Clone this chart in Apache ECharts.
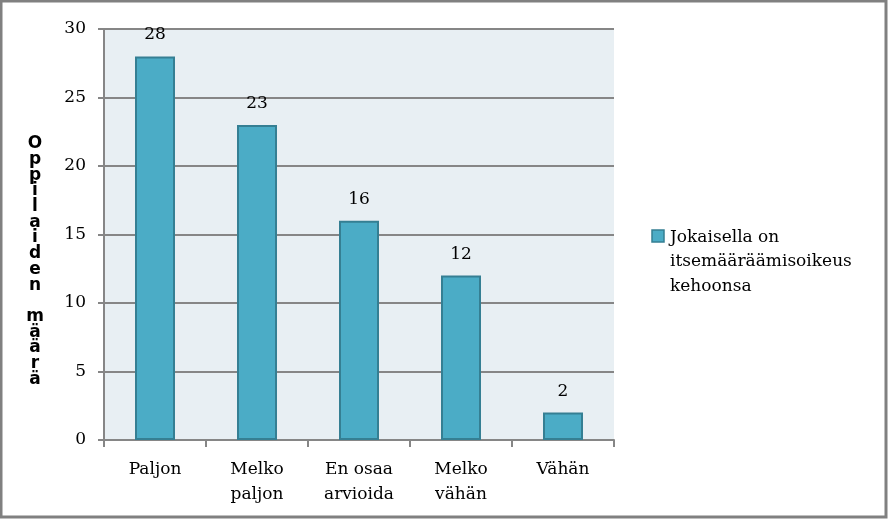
<!DOCTYPE html>
<html><head><meta charset="utf-8">
<script src="https://cdn.jsdelivr.net/npm/echarts@6/dist/echarts.min.js"></script>
<style>html,body{margin:0;padding:0;background:#fff}#c{width:888px;height:519px}</style>
</head><body><div id="c"></div>
<script>
const categories = ['Paljon', 'Melko\npaljon', 'En osaa\narvioida', 'Melko\nvähän', 'Vähän'];
const values = [28, 23, 16, 12, 2];
const seriesName = 'Jokaisella on\nitsemääräämisoikeus\nkehoonsa';
const yTitle = 'Oppilaiden määrä';

const chart = echarts.init(document.getElementById('c'));
const serif = '"DejaVu Serif", serif';
chart.setOption({
  animation: false,
  grid: {left: 104, right: 274, top: 29, bottom: 79},
  legend: {show: false, data: [seriesName]},
  xAxis: {
    type: 'category', data: categories,
    axisLine: {lineStyle: {color: '#868686', width: 2}},
    axisTick: {show: true, length: 7, lineStyle: {color: '#868686', width: 2}},
    axisLabel: {fontFamily: serif, fontSize: 17, color: '#000', margin: 17, lineHeight: 25, verticalAlign: 'top'}
  },
  yAxis: {
    type: 'value', min: 0, max: 30, interval: 5,
    axisLine: {show: true, lineStyle: {color: '#868686', width: 2}},
    axisTick: {show: true, length: 6, lineStyle: {color: '#868686', width: 2}},
    axisLabel: {fontFamily: serif, fontSize: 17, color: '#000', margin: 18},
    splitLine: {lineStyle: {color: '#868686', width: 2}},
    splitArea: {show: true, areaStyle: {color: ['#E8EFF3']}}
  },
  graphic: [
    {type: 'text', x: 35, y: 136, style: {text: yTitle.split('').join('\n'), font: 'bold 17px "DejaVu Sans"', lineHeight: 15.7, fill: '#000', align: 'center', verticalAlign: 'top'}},
    {type: 'rect', shape: {x: 652, y: 230, width: 12, height: 12}, style: {fill: '#4BACC6', stroke: '#357F93', lineWidth: 1.5}},
    {type: 'text', x: 670, y: 225, style: {text: seriesName, font: '17px "DejaVu Serif"', lineHeight: 24.5, fill: '#000', verticalAlign: 'top'}},
    {type: 'rect', shape: {x: 1, y: 1, width: 885, height: 516}, style: {fill: 'none', stroke: '#808080', lineWidth: 3}, silent: true}
  ],
  series: [{
    name: seriesName, type: 'bar', data: values, barWidth: 40,
    itemStyle: {color: '#4BACC6', borderColor: '#357F93', borderWidth: 2},
    label: {show: true, position: 'top', distance: 13, fontFamily: serif, fontSize: 17, color: '#000'}
  }]
});
</script></body></html>
